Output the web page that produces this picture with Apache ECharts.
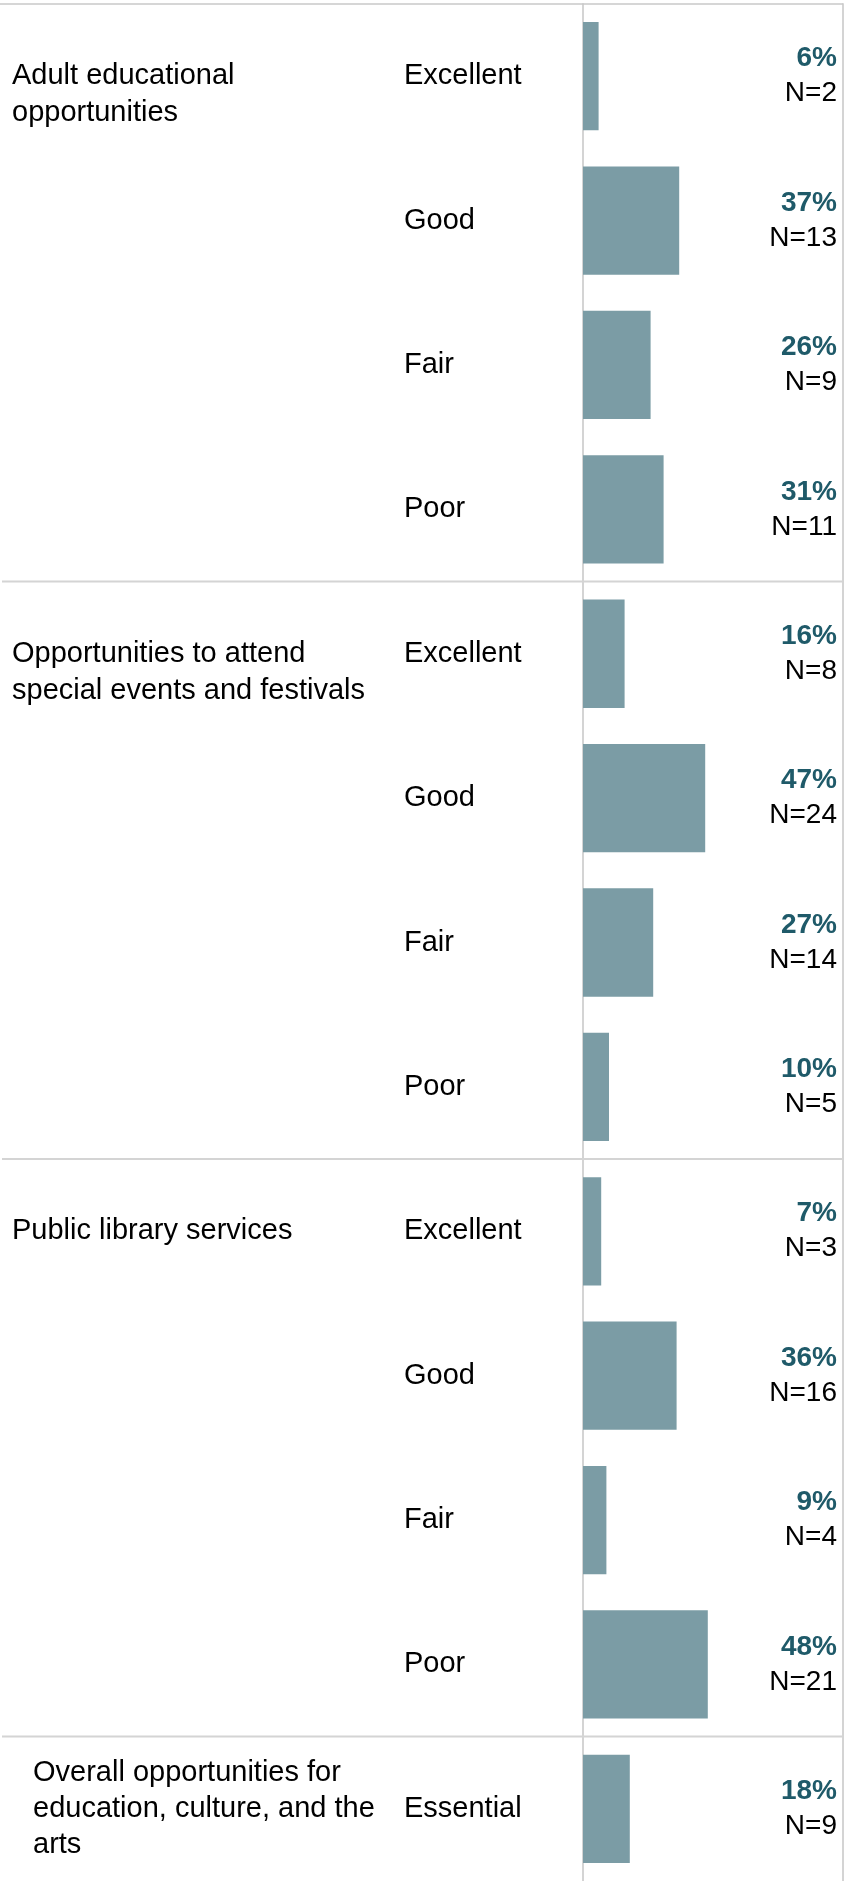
<!DOCTYPE html>
<html>
<head>
<meta charset="utf-8">
<title>Education, culture and the arts</title>
<script src="https://cdn.jsdelivr.net/npm/echarts@6/dist/echarts.min.js"></script>
<style>
    html, body { margin: 0; padding: 0; background: #fff; }
    #chart { width: 854px; height: 1881px; }
</style>
</head>
<body>
<div id="chart"></div>
<script>
// 分组标题
var groups = [
    'Adult educational\nopportunities',
    'Opportunities to attend\nspecial events and festivals',
    'Public library services',
    'Overall opportunities for\neducation, culture, and the\narts'
];
// 每组第一行的序号
var groupStart = [0, 4, 8, 12];
// 每一行的评价
var ratings = [
    'Excellent', 'Good', 'Fair', 'Poor',
    'Excellent', 'Good', 'Fair', 'Poor',
    'Excellent', 'Good', 'Fair', 'Poor',
    'Essential'
];
// 百分比
var pct = [6, 37, 26, 31, 16, 47, 27, 10, 7, 36, 9, 48, 18];
// 人数
var counts = [2, 13, 9, 11, 8, 24, 14, 5, 3, 16, 4, 21, 9];

var FONT = '"Liberation Sans", Arial, Helvetica, sans-serif';
var LINE = '#d4d4d4';

// 右侧标签文字
var rightLabels = pct.map(function(p, i) {
    return '{p|' + p + '%}\n{n|N=' + counts[i] + '}';
});

var chart = echarts.init(document.getElementById('chart'));

chart.setOption({
    animation: false,
    backgroundColor: '#fff',
    grid: {
        left: 583,
        right: 11,
        top: 4,
        height: 1885
    },
    xAxis: {
        type: 'value',
        min: 0,
        max: 100,
        show: false
    },
    yAxis: [{
        type: 'category',
        data: ratings,
        inverse: true,
        axisLine: { show: true, lineStyle: { color: LINE, width: 2 } },
        axisTick: { show: false },
        splitLine: { show: false },
        axisLabel: {
            margin: 179,
            align: 'left',
            color: '#000',
            fontSize: 29,
            fontFamily: FONT
        }
    }, {
        type: 'category',
        position: 'right',
        data: rightLabels,
        inverse: true,
        axisLine: { show: true, lineStyle: { color: LINE, width: 2 } },
        axisTick: { show: false },
        splitLine: { show: false },
        axisLabel: {
            inside: true,
            margin: 6,
            align: 'right',
            fontFamily: FONT,
            rich: {
                p: { fontSize: 28, fontWeight: 'bold', color: '#1f5a69', lineHeight: 35, fontFamily: FONT, align: 'right' },
                n: { fontSize: 28, color: '#000', lineHeight: 35, fontFamily: FONT, align: 'right' }
            }
        }
    }],
    series: [{
        type: 'bar',
        data: pct,
        yAxisIndex: 0,
        barCategoryGap: '25%',
        itemStyle: { color: '#7b9ca5' },
        silent: true
    }]
});

// 分组标题和分隔线的位置根据坐标轴算出来
var c0 = chart.convertToPixel({ yAxisIndex: 0 }, 0);
var c1 = chart.convertToPixel({ yAxisIndex: 0 }, 1);
var band = c1 - c0;
var gridTop = c0 - band / 2;
var rightX = chart.convertToPixel({ xAxisIndex: 0 }, 100);

var graphics = [];
// 顶部横线
graphics.push({
    type: 'line',
    shape: { x1: 0, y1: gridTop, x2: rightX, y2: gridTop },
    style: { stroke: '#c8c8c8', lineWidth: 1.5 },
    z: 10
});

groupStart.forEach(function(start, g) {
    var cy = chart.convertToPixel({ yAxisIndex: 0 }, start);
    var last = g === groups.length - 1;
    graphics.push({
        type: 'text',
        style: {
            text: groups[g],
            x: last ? 33 : 12,
            y: last ? cy : cy - 18.5,
            verticalAlign: last ? 'middle' : 'top',
            fontSize: 29,
            lineHeight: last ? 36 : 37,
            fontFamily: FONT,
            fill: '#000'
        }
    });
    // 组之间的分隔线
    if (start > 0) {
        var sy = cy - band / 2;
        graphics.push({
            type: 'line',
            shape: { x1: 2, y1: sy, x2: rightX, y2: sy },
            style: { stroke: LINE, lineWidth: 2 },
            z: 10
        });
    }
});

chart.setOption({ graphic: graphics });
</script>
</body>
</html>
